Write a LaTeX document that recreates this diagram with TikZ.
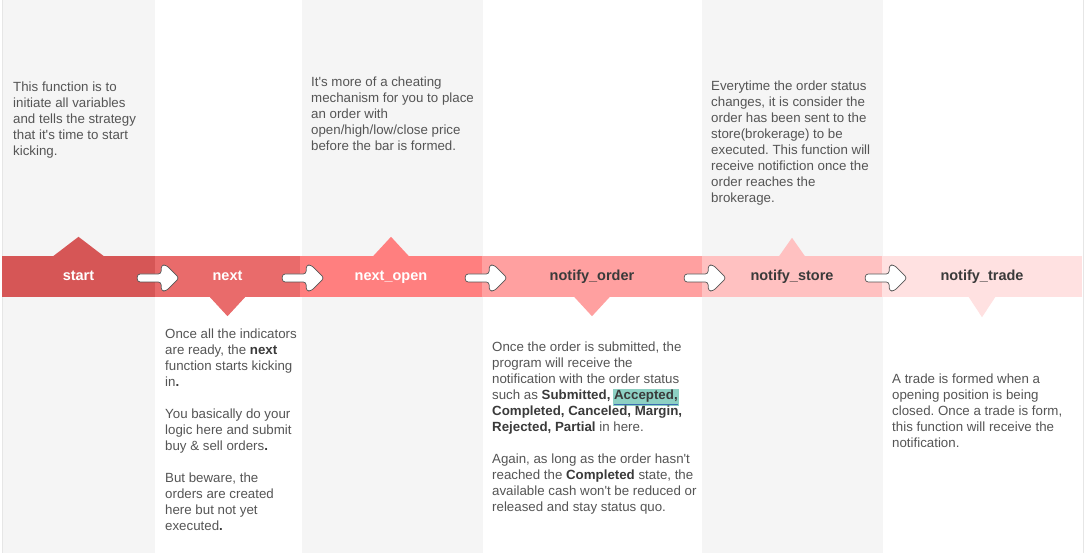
\documentclass[tikz,border=0pt]{standalone}
\usepackage{fontspec}
\setmainfont{Liberation Sans}
\usetikzlibrary{calc}
\frenchspacing
\definecolor{colgray}{HTML}{F5F5F5}
\definecolor{cA}{HTML}{D65656}
\definecolor{cB}{HTML}{E96B6B}
\definecolor{cC}{HTML}{FF7F7F}
\definecolor{cD}{HTML}{FFA0A0}
\definecolor{cE}{HTML}{FFC1C1}
\definecolor{cF}{HTML}{FFE1E1}
\definecolor{txt}{HTML}{555555}
\definecolor{strong}{HTML}{3A3A3A}
\definecolor{lbl}{HTML}{3A3A3A}
\definecolor{hl}{HTML}{8DD0C3}
\definecolor{ulblue}{HTML}{3B6DB3}
\definecolor{edge}{HTML}{E6E6E6}
\definecolor{arrowline}{HTML}{555555}
\newcommand{\bt}[1]{{\bfseries\color{strong}#1}}
\newcommand{\ap}{\textquotesingle}
\newcommand{\hlword}[1]{\kern-1pt{\setlength{\fboxsep}{1pt}\colorbox{hl}{\color{ulblue}\underline{\bt{#1}}}}\kern-1pt}
\begin{document}
\begin{tikzpicture}[x=1pt,y=-1pt,
  seg/.style={minimum height=41pt, inner sep=0pt, text height=11pt, text depth=2pt,
              font=\fontsize{14.5}{17}\selectfont\bfseries},
  body/.style={anchor=north west, inner sep=0pt, align=left, text=txt,
               font=\fontsize{13.3}{16}\selectfont},
  blockarrow/.style={fill=white, draw=arrowline, line width=0.7pt, rounded corners=3pt, line join=round},
  pics/barrow/.style={code={
    \draw[blockarrow] (-18,-4) -- (6,-4) -- (6,-13) -- (11,-13) -- (24,0) -- (11,13) -- (6,13) -- (6,4) -- (-18,4) -- cycle;}}
]
\useasboundingbox (0,0) rectangle (1085,553);
\fill[white] (0,0) rectangle (1085,553);
% grey columns
\fill[colgray] (3,0) rectangle (155,553);
\fill[colgray] (302,0) rectangle (483,553);
\fill[colgray] (702,0) rectangle (883,553);
\draw[edge, line width=0.6pt] (2.5,0) -- (2.5,553);
\draw[edge, line width=0.6pt] (1083.5,0) -- (1083.5,553);

% band segments
\node[seg, fill=cA, text=white, minimum width=153pt] (start) at (78.5,276.5) {start};
\node[seg, fill=cB, text=white, minimum width=145pt] (next) at (227.5,276.5) {next};
\node[seg, fill=cC, text=white, minimum width=182pt] (nextopen) at (391,276.5) {next\_open};
\node[seg, fill=cD, text=lbl, minimum width=220pt] (norder) at (592,276.5) {notify\_order};
\node[seg, fill=cE, text=lbl, minimum width=180pt] (nstore) at (792,276.5) {notify\_store};
\node[seg, fill=cF, text=lbl, minimum width=200pt] (ntrade) at (982,276.5) {notify\_trade};

% pointer triangles
\fill[cA] ($(start.north)+(-25.5,0.5)$) -- ($(start.north)+(0,-19)$) -- ($(start.north)+(25.5,0.5)$) -- cycle;
\fill[cB] ($(next.south)+(-18,-0.5)$) -- ($(next.south)+(0,19)$) -- ($(next.south)+(18,-0.5)$) -- cycle;
\fill[cC] ($(nextopen.north)+(-18,0.5)$) -- ($(nextopen.north)+(0,-19)$) -- ($(nextopen.north)+(18,0.5)$) -- cycle;
\fill[cD] ($(norder.south)+(-18,-0.5)$) -- ($(norder.south)+(0,19)$) -- ($(norder.south)+(18,-0.5)$) -- cycle;
\fill[cE] ($(nstore.north)+(-13,0.5)$) -- ($(nstore.north)+(0,-18)$) -- ($(nstore.north)+(13,0.5)$) -- cycle;
\fill[cF] ($(ntrade.south)+(-13.5,-0.5)$) -- ($(ntrade.south)+(0,20)$) -- ($(ntrade.south)+(13.5,-0.5)$) -- cycle;

% block arrows between steps
\pic at ($(start.east)+(0,1.5)$) {barrow};
\pic at ($(next.east)+(0,1.5)$) {barrow};
\pic at ($(nextopen.east)+(1,1.5)$) {barrow};
\pic at ($(norder.east)+(0,1.5)$) {barrow};
\pic at ($(nstore.east)+(1,1.5)$) {barrow};

% descriptions
\node[body] (dstart) at (13,82) {This function is to\\
initiate all variables\\
and tells the strategy\\
that it\ap s time to start\\
kicking.};

\node[body] (dnextopen) at (311,77) {It\ap s more of a cheating\\
mechanism for you to place\\
an order with\\
open/high/low/close price\\
before the bar is formed.};

\node[body] (dnstore) at (711,81) {Everytime the order status\\
changes, it is consider the\\
order has been sent to the\\
store(brokerage) to be\\
executed. This function will\\
receive notifiction once the\\
order reaches the\\
brokerage.};

\node[body] (dnext) at (165,329) {Once all the indicators\\
are ready, the \bt{next}\\
function starts kicking\\
in\bt{.}\\[16pt]
You basically do your\\
logic here and submit\\
buy \& sell orders\bt{.}\\[16pt]
But beware, the\\
orders are created\\
here but not yet\\
executed\bt{.}};

\node[body] (dnorder) at (492,342) {Once the order is submitted, the\\
program will receive the\\
notification with the order status\\
such as \bt{Submitted,} \hlword{Accepted,}\\
\bt{Completed, Canceled, Margin,}\\
\bt{Rejected, Partial} in here.\\[16pt]
Again, as long as the order hasn\ap t\\
reached the \bt{Completed} state, the\\
available cash won\ap t be reduced or\\
released and stay status quo.};

\node[body] (dntrade) at (892,374) {A trade is formed when a\\
opening position is being\\
closed. Once a trade is form,\\
this function will receive the\\
notification.};
\end{tikzpicture}
\end{document}
